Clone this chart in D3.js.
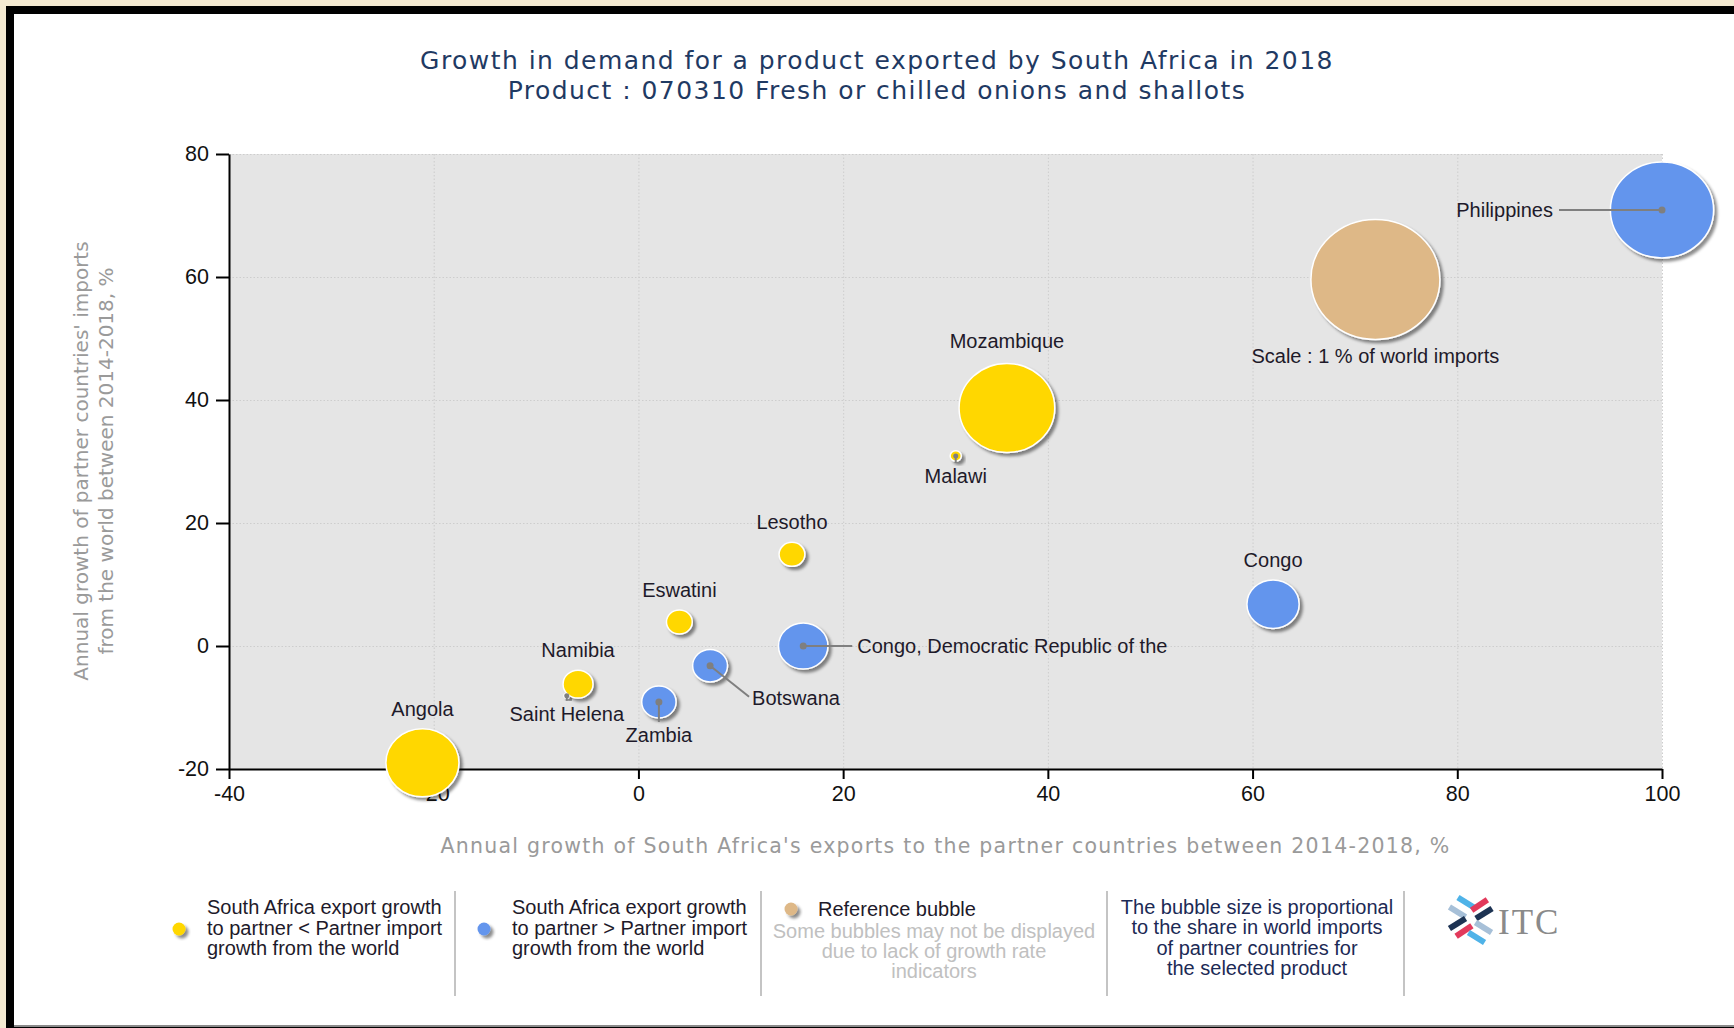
<!DOCTYPE html>
<html><head><meta charset="utf-8">
<script src="https://cdn.jsdelivr.net/npm/d3@7"></script>
<style>
html,body{margin:0;padding:0;background:#f4ead2;}
svg{display:block;}
</style></head><body>
<svg id="chart" width="1734" height="1028"></svg>
<script>
// ---------- data ----------
const titleLines = ["Growth in demand for a product exported by South Africa in 2018",
                    "Product : 070310 Fresh or chilled onions and shallots"];
const xAxisTitle = "Annual growth of South Africa's exports to the partner countries between 2014-2018, %";
const yAxisTitle = ["Annual growth of partner countries' imports", "from the world between 2014-2018, %"];
const countries   = ["Angola","Saint Helena","Namibia","Zambia","Botswana","Eswatini","Lesotho",
                     "Congo, Democratic Republic of the","Mozambique","Malawi","Congo","Philippines"];
const exportGrowth = [-21.1, -7.0, -5.9, 2.0, 7.0, 4.0, 15.0, 16.1, 36.0, 31.0, 62.0, 100.0];
const importGrowth = [-19.0, -8.1, -6.2, -9.1, -3.2, 3.9, 14.9, 0.0, 38.7, 30.9, 6.8, 70.9];
const importShare  = [0.321, 0.0017, 0.054, 0.071, 0.073, 0.040, 0.040, 0.147, 0.55, 0.0075, 0.164, 0.64];
const bubbleGroup  = ["lower","higher","lower","higher","higher","lower","lower","higher","lower","lower","higher","higher"];
const referenceBubble = {label: "Scale : 1 % of world imports", x: 72.0, y: 59.6, share: 1};
const xTicks = [-40,-20,0,20,40,60,80,100];
const yTicks = [-20,0,20,40,60,80];
const legendLower  = ["South Africa export growth","to partner < Partner import","growth from the world"];
const legendHigher = ["South Africa export growth","to partner > Partner import","growth from the world"];
const legendRefTitle = "Reference bubble";
const legendRefNote = ["Some bubbles may not be displayed","due to lack of growth rate","indicators"];
const legendSize = ["The bubble size is proportional","to the share in world imports","of partner countries for","the selected product"];

// ---------- layout / style ----------
const colors = {lower: "#FFD700", higher: "#6495ED", reference: "#DEB887"};
const labelLayout = {
  "Angola": {pos: "above"}, "Namibia": {pos: "above"}, "Eswatini": {pos: "above"},
  "Lesotho": {pos: "above"}, "Mozambique": {pos: "above", gap: 22}, "Congo": {pos: "above"},
  "Saint Helena": {pos: "below", d: 18}, "Zambia": {pos: "below", d: 33}, "Malawi": {pos: "below", d: 20},
  "Botswana": {pos: "diag", dx: 42, dy: 32},
  "Congo, Democratic Republic of the": {pos: "right", d: 54},
  "Philippines": {pos: "left", d: 109}
};

const svg = d3.select("#chart");
const W = 1734, H = 1028;

// frame
svg.append("rect").attr("x",0).attr("y",0).attr("width",W).attr("height",H).attr("fill","#f4ead2");
svg.append("rect").attr("x",6).attr("y",6).attr("width",W-6).attr("height",H-6).attr("fill","#000");
svg.append("rect").attr("x",14).attr("y",14).attr("width",W-14).attr("height",1011).attr("fill","#fff");
svg.append("line").attr("x1",14).attr("x2",W).attr("y1",1026).attr("y2",1026).attr("stroke","#8a8a8a").attr("stroke-width",2);

const defs = svg.append("defs");
const f = defs.append("filter").attr("id","shadow").attr("x","-30%").attr("y","-30%").attr("width","170%").attr("height","170%");
f.append("feDropShadow").attr("dx",3).attr("dy",3).attr("stdDeviation",1.6).attr("flood-color","#000").attr("flood-opacity",0.45);

const x = d3.scaleLinear().domain([-40,100]).range([229,1662]);
const y = d3.scaleLinear().domain([-20,80]).range([769,154]);
const rScale = s => 60*Math.sqrt(s);
const aspect = 1.075;
const fmt = d => String(d);

// title
svg.append("g").selectAll("text").data(titleLines).join("text")
  .attr("x",877).attr("y",(d,i)=>69+i*30).attr("text-anchor","middle")
  .attr("font-family","'DejaVu Sans', Verdana, sans-serif").attr("font-size",25).attr("letter-spacing",1.45)
  .attr("fill","#1f3a63").text(d=>d);

// plot background
svg.append("rect").attr("x",x(-40)).attr("y",y(80)).attr("width",x(100)-x(-40)).attr("height",y(-20)-y(80)).attr("fill","#e5e5e5");
// grid
const grid = svg.append("g").attr("stroke","#cdcdcd").attr("stroke-width",1).attr("stroke-dasharray","1.5,2");
grid.selectAll(".vg").data(xTicks.filter(t=>t>-40)).join("line")
  .attr("x1",d=>x(d)+0.5).attr("x2",d=>x(d)+0.5).attr("y1",y(80)).attr("y2",y(-20));
grid.selectAll(".hg").data(yTicks.filter(t=>t>-20)).join("line")
  .attr("y1",d=>y(d)+0.5).attr("y2",d=>y(d)+0.5).attr("x1",x(-40)).attr("x2",x(100));

// axes
const tickFont = "'Liberation Sans', Arial, sans-serif";
const gx = svg.append("g").attr("transform",`translate(0,${y(-20)})`)
  .call(d3.axisBottom(x).tickValues(xTicks).tickSize(10).tickSizeOuter(0).tickPadding(7).tickFormat(fmt));
const gy = svg.append("g").attr("transform",`translate(${x(-40)},0)`)
  .call(d3.axisLeft(y).tickValues(yTicks).tickSize(13).tickSizeOuter(0).tickPadding(7).tickFormat(fmt));
[gx,gy].forEach(g=>{
  g.select(".domain").attr("stroke","#000").attr("stroke-width",2);
  g.selectAll(".tick line").attr("stroke","#000").attr("stroke-width",2);
  g.selectAll(".tick text").attr("font-family",tickFont).attr("font-size",21.5).attr("fill","#111");
});

// axis titles
svg.append("text").attr("x",(x(-40)+x(100))/2).attr("y",853).attr("text-anchor","middle")
  .attr("font-family","'DejaVu Sans', Verdana, sans-serif").attr("font-size",20.5).attr("letter-spacing",1.25)
  .attr("fill","#9a9a9a").text(xAxisTitle);
svg.append("g").selectAll("text").data(yAxisTitle).join("text")
  .attr("transform",(d,i)=>`translate(${88+i*25},461) rotate(-90)`).attr("text-anchor","middle")
  .attr("font-family","'DejaVu Sans', Verdana, sans-serif").attr("font-size",20).attr("fill","#9a9a9a").text(d=>d);

// bubbles
const data = countries.map((c,i)=>({name:c, x:exportGrowth[i], y:importGrowth[i], share:importShare[i], group:bubbleGroup[i]}));
const all = data.concat([{name:referenceBubble.label, x:referenceBubble.x, y:referenceBubble.y, share:referenceBubble.share, group:"reference"}]);
svg.append("g").selectAll("ellipse").data(all).join("ellipse")
  .attr("cx",d=>x(d.x)).attr("cy",d=>y(d.y))
  .attr("rx",d=>rScale(d.share)*aspect).attr("ry",d=>rScale(d.share))
  .attr("fill",d=>colors[d.group]).attr("stroke","#fff").attr("stroke-width",1.5)
  .attr("filter","url(#shadow)");

// labels
const labFont = "'Liberation Sans', Arial, sans-serif";
const lg = svg.append("g");
function lab(xp, yp, txt, anchor){
  lg.append("text").attr("x",xp).attr("y",yp).attr("dy","0.35em").attr("text-anchor",anchor)
    .attr("font-family",labFont).attr("font-size",20).attr("fill","#1e1a2a").text(txt);
}
function leader(x1,y1,x2,y2,r){
  lg.append("line").attr("x1",x1).attr("y1",y1).attr("x2",x2).attr("y2",y2).attr("stroke","#7f7f7f").attr("stroke-width",2);
  lg.append("circle").attr("cx",x1).attr("cy",y1).attr("r",r).attr("fill","#7f7f7f");
}
data.forEach(d=>{
  const cx = x(d.x), cy = y(d.y), ry = rScale(d.share);
  const L = labelLayout[d.name];
  const dr = ry < 6 ? 2.5 : 3.5;
  if (L.pos === "above") lab(cx, cy - ry - (L.gap||20), d.name, "middle");
  else if (L.pos === "below") { leader(cx, cy, cx, cy + L.d - 13, dr); lab(cx, cy + L.d, d.name, "middle"); }
  else if (L.pos === "diag") { leader(cx, cy, cx + L.dx - 3, cy + L.dy - 1, dr); lab(cx + L.dx, cy + L.dy, d.name, "start"); }
  else if (L.pos === "right") { leader(cx, cy, cx + L.d - 5, cy, dr); lab(cx + L.d, cy, d.name, "start"); }
  else if (L.pos === "left") { leader(cx, cy, cx - L.d + 6, cy, dr); lab(cx - L.d, cy, d.name, "end"); }
});
lab(x(referenceBubble.x), y(referenceBubble.y) + rScale(referenceBubble.share) + 17, referenceBubble.label, "middle");

// legend
const leg = svg.append("g").attr("font-family",labFont).attr("font-size",20);
[455,761,1107,1404].forEach(sx=>{
  leg.append("line").attr("x1",sx).attr("x2",sx).attr("y1",891).attr("y2",996).attr("stroke","#b0b0b0").attr("stroke-width",1.5);
});
function dot(cx,cy,col){
  leg.append("circle").attr("cx",cx).attr("cy",cy).attr("r",6.5).attr("fill",col).attr("filter","url(#shadow)");
}
dot(179,929,colors.lower); dot(484,929,colors.higher); dot(791,909,colors.reference);
leg.selectAll(".l1").data(legendLower).join("text").attr("x",207).attr("y",(d,i)=>914+i*20.5).attr("fill","#1e1a2a").text(d=>d);
leg.selectAll(".l2").data(legendHigher).join("text").attr("x",512).attr("y",(d,i)=>914+i*20.5).attr("fill","#1e1a2a").text(d=>d);
leg.append("text").attr("x",818).attr("y",916).attr("fill","#1e1a2a").text(legendRefTitle);
leg.selectAll(".l3").data(legendRefNote).join("text").attr("x",934).attr("y",(d,i)=>938+i*20).attr("text-anchor","middle").attr("fill","#c0c0c0").text(d=>d);
leg.selectAll(".l4").data(legendSize).join("text").attr("x",1257).attr("y",(d,i)=>914+i*20.3).attr("text-anchor","middle").attr("fill","#1c2a55").text(d=>d);

// ITC logo
const logo = svg.append("g").attr("transform","translate(1470,920)");
const bars = [
  {cx:-4, cy:-17.5, a:32, c:"#4fb3e8"},
  {cx:-12.5, cy:-8, a:32, c:"#a7c0d8"},
  {cx:9.5, cy:-15, a:-34, c:"#e23a5c"},
  {cx:14, cy:-6.5, a:-32, c:"#1d3353"},
  {cx:-12.5, cy:3.5, a:-32, c:"#1d3353"},
  {cx:-6, cy:11, a:-34, c:"#e23a5c"},
  {cx:13.5, cy:7.5, a:32, c:"#a7c0d8"},
  {cx:6.5, cy:17.5, a:32, c:"#4fb3e8"}
];
bars.forEach(b=>{
  logo.append("rect").attr("x",-9.5).attr("y",-3).attr("width",19).attr("height",6)
    .attr("fill",b.c).attr("transform",`translate(${b.cx},${b.cy}) rotate(${b.a})`);
});
svg.append("text").attr("x",1498).attr("y",934).attr("font-family","'Liberation Serif', 'Times New Roman', serif")
  .attr("font-size",35).attr("letter-spacing",2).attr("fill","#8a8a8a").text("ITC");
</script>
</body></html>
